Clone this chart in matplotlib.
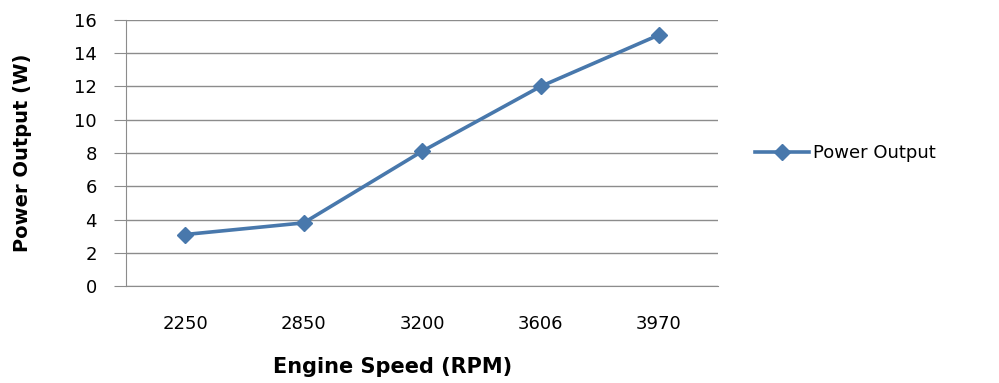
import matplotlib.pyplot as plt

# данные с графика
speeds = ["2250", "2850", "3200", "3606", "3970"]
power = [3.1, 3.8, 8.1, 12.0, 15.1]

plt.rcParams["font.family"] = ["DejaVu Sans"]

fig = plt.figure(figsize=(9.99, 3.83), dpi=100)
ax = fig.add_axes([0.126, 0.253, 0.593, 0.695])

x = range(len(speeds))
ax.plot(x, power, color="#4878AC", linewidth=2.6, marker="D", markersize=8,
        label="Power Output", zorder=3)

ax.set_xlim(-0.5, len(speeds) - 0.5)
ax.set_ylim(0, 16)
ax.set_yticks(range(0, 17, 2))
ax.set_xticks(list(x))
ax.set_xticklabels(speeds)

ax.grid(axis="y", color="#8c8c8c", linewidth=1)
ax.set_axisbelow(True)
for side in ["top", "right"]:
    ax.spines[side].set_visible(False)
ax.spines["left"].set_color("#8c8c8c")
ax.spines["bottom"].set_color("#8c8c8c")
ax.tick_params(axis="y", length=9, color="#8c8c8c", labelsize=13, pad=12)
ax.tick_params(axis="x", length=0, labelsize=13, pad=21)

ax.set_xlabel("Engine Speed (RPM)", fontsize=15, fontweight="bold")
ax.xaxis.set_label_coords(0.45, -0.265)
ax.set_ylabel("Power Output (W)", fontsize=14, fontweight="bold", labelpad=30)

ax.legend(loc="center left", bbox_to_anchor=(1.035, 0.5), frameon=False,
          fontsize=13, handlelength=3.0, handletextpad=0.2)

fig.savefig("out.png", dpi=100)
